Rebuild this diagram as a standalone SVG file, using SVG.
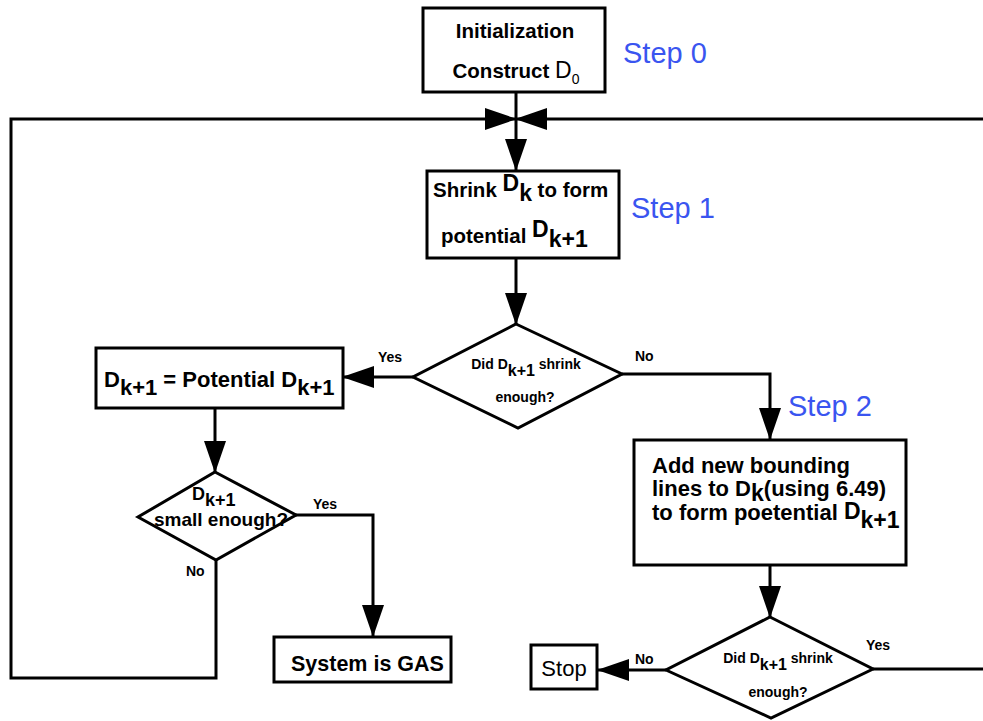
<svg xmlns="http://www.w3.org/2000/svg" width="983" height="721" viewBox="0 0 983 721">
<style>
.box{fill:#fff;stroke:#000;stroke-width:3}
.ln{fill:none;stroke:#000;stroke-width:3}
.b{font-family:"Liberation Sans",Arial,sans-serif;font-weight:bold;fill:#000}
.r{font-family:"Liberation Sans",Arial,sans-serif;fill:#000}
.step{font-family:"Liberation Sans",Arial,sans-serif;font-size:29px;fill:#3a55f0}
.lbl{font-family:"Liberation Sans",Arial,sans-serif;font-weight:bold;font-size:14px;fill:#000}
</style>
<defs>
<marker id="ah" markerUnits="userSpaceOnUse" markerWidth="32" markerHeight="22" refX="31" refY="11" orient="auto">
<path d="M0,0 L32,11 L0,22 z" fill="#000"/>
</marker>
</defs>
<rect width="983" height="721" fill="#fff"/>
<g id="connectors">
<line class="ln" x1="516" y1="92" x2="516" y2="170" marker-end="url(#ah)"/>
<polyline class="ln" points="216,560 216,678 11,678 11,119 516,119" marker-end="url(#ah)"/>
<polyline class="ln" points="983,119 516,119" marker-end="url(#ah)"/>
<line class="ln" x1="516" y1="258" x2="516" y2="324" marker-end="url(#ah)"/>
<line class="ln" x1="413" y1="377" x2="343" y2="377" marker-end="url(#ah)"/>
<polyline class="ln" points="622,374 770,374 770,439" marker-end="url(#ah)"/>
<line class="ln" x1="215" y1="408" x2="215" y2="472" marker-end="url(#ah)"/>
<polyline class="ln" points="295,515 373,515 373,636" marker-end="url(#ah)"/>
<line class="ln" x1="770" y1="565" x2="770" y2="617" marker-end="url(#ah)"/>
<line class="ln" x1="666" y1="670" x2="598" y2="670" marker-end="url(#ah)"/>
<line class="ln" x1="873" y1="669" x2="983" y2="669"/>
<text class="lbl" x="378" y="362">Yes</text>
<text class="lbl" x="635" y="361">No</text>
<text class="lbl" x="313" y="509">Yes</text>
<text class="lbl" x="186" y="576">No</text>
<text class="lbl" x="635" y="664">No</text>
<text class="lbl" x="866" y="650">Yes</text>
</g>
<g id="init">
<rect class="box" x="423" y="8" width="182" height="84"/>
<text class="b" x="515" y="38" font-size="20.5" text-anchor="middle">Initialization</text>
<text x="516" y="78" text-anchor="middle"><tspan class="b" font-size="20.5">Construct </tspan><tspan class="r" font-size="23">D</tspan><tspan class="r" font-size="14" dy="6">0</tspan></text>
</g>
<text id="step0" class="step" x="623" y="63">Step 0</text>
<g id="shrink">
<rect class="box" x="427" y="171" width="192" height="87"/>
<text class="b" font-size="20.5"><tspan x="433" y="197">Shrink </tspan><tspan font-size="23" dy="-6">D</tspan><tspan font-size="23" dy="10">k</tspan><tspan dy="-4"> to form</tspan></text>
<text class="b" font-size="20.5"><tspan x="441" y="243">potential </tspan><tspan font-size="23" dy="-6">D</tspan><tspan font-size="23" dy="10">k+1</tspan></text>
</g>
<text id="step1" class="step" x="631" y="218">Step 1</text>
<g id="dec1">
<polygon class="box" points="516,324 622,374 518,428 413,377"/>
<text class="b" font-size="14" x="526" y="369" text-anchor="middle">Did D<tspan font-size="16" dy="7">k+1</tspan><tspan dy="-7"> shrink</tspan></text>
<text class="b" font-size="14" x="525" y="402" text-anchor="middle">enough?</text>
</g>
<g id="assign">
<rect class="box" x="96" y="348" width="247" height="60"/>
<text class="b" font-size="22"><tspan x="104" y="387">D</tspan><tspan dy="8">k+1</tspan><tspan dy="-8"> = Potential D</tspan><tspan dy="8">k+1</tspan></text>
</g>
<g id="dec2">
<polygon class="box" points="215,472 296,515 216,560 138,517"/>
<text class="b" font-size="18"><tspan x="192" y="500">D</tspan><tspan dy="6">k+1</tspan></text>
<text class="b" font-size="19" x="221" y="526" text-anchor="middle">small enough?</text>
</g>
<g id="gas">
<rect class="box" x="274" y="637" width="177" height="45"/>
<text class="b" font-size="21.5" x="291" y="671">System is GAS</text>
</g>
<text id="step2" class="step" x="788" y="416">Step 2</text>
<g id="add">
<rect class="box" x="634" y="440" width="272" height="125"/>
<text class="b" font-size="22" x="652" y="473">Add new bounding</text>
<text class="b" font-size="22"><tspan x="652" y="496">lines to D</tspan><tspan font-size="23" dy="5">k</tspan><tspan dy="-5">(using 6.49)</tspan></text>
<text class="b" font-size="22"><tspan x="652" y="520">to form poetential </tspan><tspan font-size="23" dy="-1">D</tspan><tspan font-size="23" dy="9">k+1</tspan></text>
</g>
<g id="dec3">
<polygon class="box" points="770,617 873,669 771,718 666,670"/>
<text class="b" font-size="14" x="778" y="663" text-anchor="middle">Did D<tspan font-size="16" dy="7">k+1</tspan><tspan dy="-7"> shrink</tspan></text>
<text class="b" font-size="14" x="778" y="697" text-anchor="middle">enough?</text>
</g>
<g id="stop">
<rect class="box" x="531" y="645" width="66" height="44"/>
<text class="r" font-size="22" x="564" y="676" text-anchor="middle">Stop</text>
</g>
</svg>
